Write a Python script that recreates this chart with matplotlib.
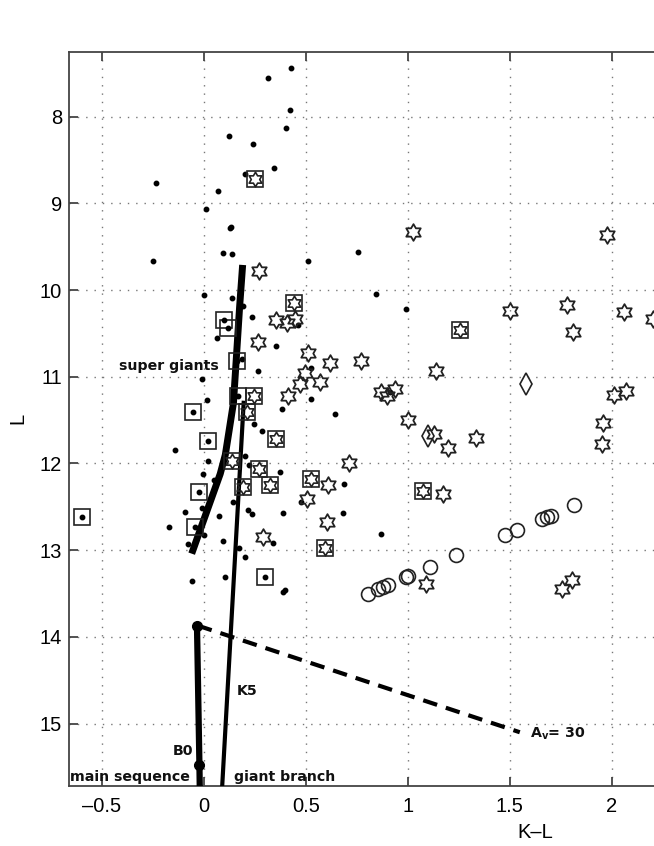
import numpy as np
import matplotlib
matplotlib.use('Agg')
import matplotlib.pyplot as plt
from matplotlib.path import Path

# K-L, L values
dot_kl = [0.425, 0.316, 0.42, 0.404, 0.123, 0.243, 0.346, 0.204, -0.236, 0.07,
          0.008, 0.128, 0.135, 0.096, 0.138, -0.249, 0.512, 0.754, 0.0, 0.14,
          0.19, 0.238, 0.463, 0.065, 0.844, 0.993, 0.353, 0.263, 0.527, 0.526,
          0.384, 0.644, 0.245, 0.283, 0.913, -0.011, 0.013, -0.142, 0.021, -0.006,
          0.049, -0.093, -0.007, 0.075, -0.172, 0.0, 0.092, -0.077, -0.06, 0.103,
          0.145, 0.204, 0.174, 0.214, 0.238, 0.39, 0.2, 0.373, 0.689, 0.684,
          0.474, 0.34, 0.39, 0.40, 0.868, 0.222, 0.185]
dot_L = [7.44, 7.55, 7.92, 8.13, 8.22, 8.31, 8.59, 8.66, 8.76, 8.86,
         9.06, 9.28, 9.27, 9.57, 9.58, 9.67, 9.67, 9.56, 10.06, 10.09,
         10.18, 10.31, 10.40, 10.55, 10.04, 10.22, 10.64, 10.93, 10.90, 11.26,
         11.37, 11.43, 11.55, 11.62, 11.17, 11.03, 11.27, 11.84, 11.97, 12.12,
         12.19, 12.56, 12.51, 12.61, 12.73, 12.82, 12.89, 12.93, 13.36, 13.31,
         12.44, 13.08, 12.98, 12.54, 12.58, 12.57, 11.91, 12.10, 12.24, 12.57,
         12.44, 12.92, 13.48, 13.46, 12.81, 12.02, 10.80]

boxdot_kl = [0.10, 0.12, 0.16, 0.169, -0.056, 0.018, -0.023, -0.044, -0.597, 0.299]
boxdot_L = [10.35, 10.44, 10.82, 11.22, 11.41, 11.74, 12.33, 12.73, 12.62, 13.31]

boxstar_kl = [0.25, 0.44, 1.258, 0.247, 0.21, 0.353, 0.14, 0.271, 0.193, 0.324,
              0.523, 0.594, 1.075]
boxstar_L = [8.72, 10.15, 10.46, 11.22, 11.41, 11.72, 11.97, 12.06, 12.27, 12.25,
             12.18, 12.98, 12.32]

star_kl = [0.271, 0.352, 0.41, 0.446, 0.267, 1.027, 1.976, 1.501, 1.781, 1.813,
           2.059, 2.205, 0.772, 1.14, 0.868, 0.9, 0.94, 2.012, 2.069, 1.003,
           1.956, 1.955, 1.13, 1.199, 1.335, 0.711, 1.171, 0.509, 0.618, 0.496,
           0.569, 0.471, 0.412, 0.61, 0.507, 0.602, 0.288, 1.089, 1.758, 1.807]
star_L = [9.78, 10.35, 10.38, 10.33, 10.60, 9.33, 9.36, 10.24, 10.17, 10.48,
          10.25, 10.33, 10.82, 10.93, 11.18, 11.22, 11.14, 11.21, 11.16, 11.50,
          11.53, 11.78, 11.66, 11.82, 11.71, 11.99, 12.35, 10.73, 10.84, 10.96,
          11.06, 11.08, 11.22, 12.25, 12.41, 12.67, 12.85, 13.39, 13.45, 13.34]

diam_kl = [1.578, 1.10]
diam_L = [11.08, 11.68]

circ_kl = [0.806, 0.852, 0.88, 0.904, 0.991, 1.0, 1.109, 1.236, 1.477, 1.534,
           1.66, 1.681, 1.705, 1.816]
circ_L = [13.50, 13.45, 13.42, 13.40, 13.31, 13.30, 13.19, 13.06, 12.83, 12.77,
          12.64, 12.62, 12.60, 12.48]

# model tracks
sg_kl = [0.19, 0.175, 0.145, 0.105, 0.08, -0.06]
sg_L = [9.71, 10.2, 11.3, 11.9, 12.12, 13.04]
gb_kl = [0.195, 0.089]
gb_L = [11.3, 15.75]
ms_kl = [-0.034, -0.022, -0.02]
ms_L = [13.87, 15.48, 15.8]
ms_dot_kl = [-0.034, -0.022]
ms_dot_L = [13.87, 15.48]
red_kl = [-0.03, 1.55]
red_L = [13.87, 15.1]

xticks = [-0.5, 0, 0.5, 1, 1.5, 2]
yticks = [8, 9, 10, 11, 12, 13, 14, 15]

# six pointed star marker
ang = np.deg2rad(90 + 30 * np.arange(12))
rad = np.where(np.arange(12) % 2 == 0, 1.0, 1 / np.sqrt(3))
star_verts = list(zip(rad * np.cos(ang), rad * np.sin(ang)))
star_verts.append(star_verts[0])
hexagram = Path(star_verts, closed=True)

plt.rcParams['font.family'] = ['Liberation Sans', 'DejaVu Sans']

fig = plt.figure(figsize=(6.54, 8.46), dpi=100)
ax = fig.add_axes([69 / 654, 60 / 846, 933 / 654, 734.5 / 846])

ax.plot(sg_kl, sg_L, color='black', lw=5, solid_capstyle='butt', zorder=3)
ax.plot(gb_kl, gb_L, color='black', lw=3, zorder=3)
ax.plot(ms_kl, ms_L, color='black', lw=4.5, zorder=3)
ax.plot(ms_dot_kl, ms_dot_L, 'o', color='black', ms=7, zorder=4)
ax.plot(red_kl, red_L, color='black', lw=3, dashes=(3.5, 2.2), zorder=3)

ax.plot(dot_kl, dot_L, 'o', color='black', ms=3.2, zorder=5)
ax.plot(boxdot_kl, boxdot_L, 's', mfc='none', mec='#222', mew=1.2, ms=12, zorder=5)
ax.plot(boxdot_kl, boxdot_L, 'o', color='black', ms=3.2, zorder=5)
ax.plot(boxstar_kl, boxstar_L, 's', mfc='none', mec='#222', mew=1.2, ms=12, zorder=5)
ax.plot(boxstar_kl, boxstar_L, marker=hexagram, ls='none', mfc='none', mec='#222',
        mew=1.2, ms=10.5, zorder=5)
ax.plot(star_kl, star_L, marker=hexagram, ls='none', mfc='none', mec='#222',
        mew=1.3, ms=12, zorder=5)
ax.plot(diam_kl, diam_L, 'd', mfc='none', mec='#222', mew=1.2, ms=11, zorder=5)
ax.plot(circ_kl, circ_L, 'o', mfc='none', mec='#222', mew=1.2, ms=10, zorder=5)

lab = dict(fontsize=10.2, fontweight='bold', family='DejaVu Sans', color='#111')
ax.text(0.075, 10.87, 'super giants', ha='right', va='center', **lab)
ax.text(0.16, 14.62, 'K5', ha='left', va='center', **lab)
ax.text(-0.05, 15.32, 'B0', ha='right', va='center', **lab)
ax.text(-0.658, 15.70, 'main sequence', ha='left', va='bottom', **lab)
ax.text(0.15, 15.70, 'giant branch', ha='left', va='bottom', **lab)
ax.text(1.6, 15.12, r'A$_\mathregular{v}$= 30', ha='left', va='center', **lab)

ax.set_xlim(-0.662, 3.916)
ax.set_ylim(15.72, 7.248)
ax.set_xticks(xticks)
ax.set_yticks(yticks)
ax.set_xticklabels([f'{t:g}'.replace('-', '\u2013') for t in xticks])
ax.grid(True, color='#777', lw=1, ls=(0, (1, 5)))
ax.set_axisbelow(True)
ax.tick_params(direction='in', length=6.5, width=1.3, color='#444',
               labelsize=14.5, top=True, right=True)
ax.tick_params(axis='x', pad=8)
ax.tick_params(axis='y', pad=5)
for s in ax.spines.values():
    s.set_color('#444')
    s.set_linewidth(1.3)

ax.set_xlabel('K\u2013L', fontsize=14.5, labelpad=5)
ax.set_ylabel('L', fontsize=14.5, labelpad=9)

fig.savefig('out.png', dpi=100)
